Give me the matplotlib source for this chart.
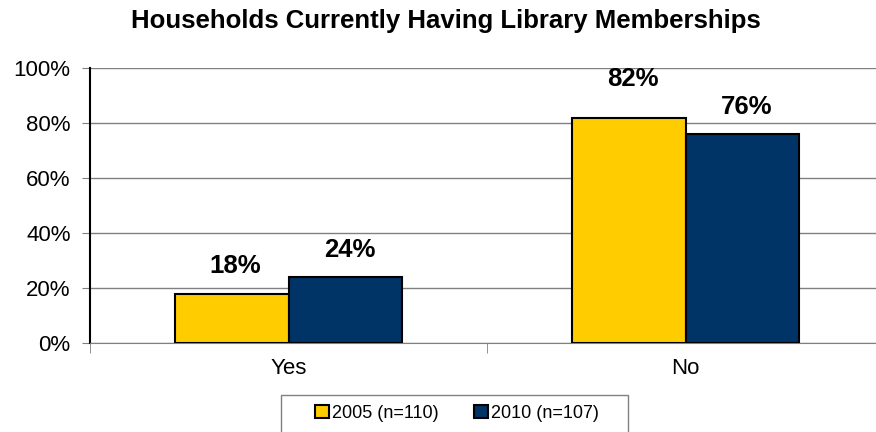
import matplotlib.pyplot as plt
from matplotlib.patches import Rectangle
import numpy as np

categories = ["Yes", "No"]
series_names = ["2005 (n=110)", "2010 (n=107)"]
values_2005 = [18, 82]
values_2010 = [24, 76]
colors = ["#FFCC00", "#003366"]

fig = plt.figure(figsize=(8.76, 4.32), dpi=100)
# plot area runs a bit past the right edge, like the original
ax = fig.add_axes([90 / 876, 1 - 343 / 432, (884 - 90) / 876, (343 - 68) / 432])

x = np.arange(len(categories))
w = 0.287
for i, (vals, name) in enumerate([(values_2005, series_names[0]), (values_2010, series_names[1])]):
    pos = x + (i - 0.5) * w
    ax.bar(pos, vals, width=w, color=colors[i], edgecolor="black", linewidth=1.5,
           label=name, zorder=3)
    for p, v in zip(pos, vals):
        # the 82% label sits higher (pushed up by the top of the chart)
        off = 9.5 if v > 80 else 5.5
        ax.text(p + 0.01, v + off, f"{v}%", ha="center", va="bottom", fontsize=18.5,
                fontweight="bold", family="Liberation Sans")

ax.set_xlim(-0.5, 1.5)
ax.set_ylim(0, 100)
ax.set_yticks(range(0, 101, 20))
ax.set_yticklabels([f"{t}%" for t in range(0, 101, 20)], family="Liberation Sans", fontsize=16)
ax.yaxis.grid(True, color="#808080", linewidth=1, zorder=0)

ax.set_xticks(x)
ax.set_xticklabels(categories, family="Liberation Sans", fontsize=16)
ax.tick_params(axis="x", length=0, pad=11)
ax.set_xticks([-0.5, 0.5, 1.5], minor=True)
ax.tick_params(axis="x", which="minor", length=7, color="#808080")
ax.tick_params(axis="y", length=6, color="#808080", pad=8)

for s in ["top", "right"]:
    ax.spines[s].set_visible(False)
ax.spines["left"].set_linewidth(1.5)
ax.spines["bottom"].set_color("#808080")

fig.text(446 / 876, 1 - 21 / 432, "Households Currently Having Library Memberships",
         ha="center", va="center", fontsize=18.5, fontweight="bold", family="Liberation Sans")

# legend box is cut off by the bottom edge in the original
fig.patches.append(Rectangle((281 / 876, -0.05), (628 - 281) / 876, 0.05 + 1 - 395 / 432,
                             transform=fig.transFigure, fill=False, edgecolor="#808080",
                             linewidth=1))
leg = fig.legend(loc="center", bbox_to_anchor=(457 / 876, 1 - 413 / 432), ncol=2,
                 prop={"family": "Liberation Sans", "size": 13}, frameon=False,
                 handlelength=0.75, handleheight=0.75,
                 handletextpad=0.15, columnspacing=2.0, borderpad=0.0, borderaxespad=0)

fig.savefig("out.png", dpi=100)
